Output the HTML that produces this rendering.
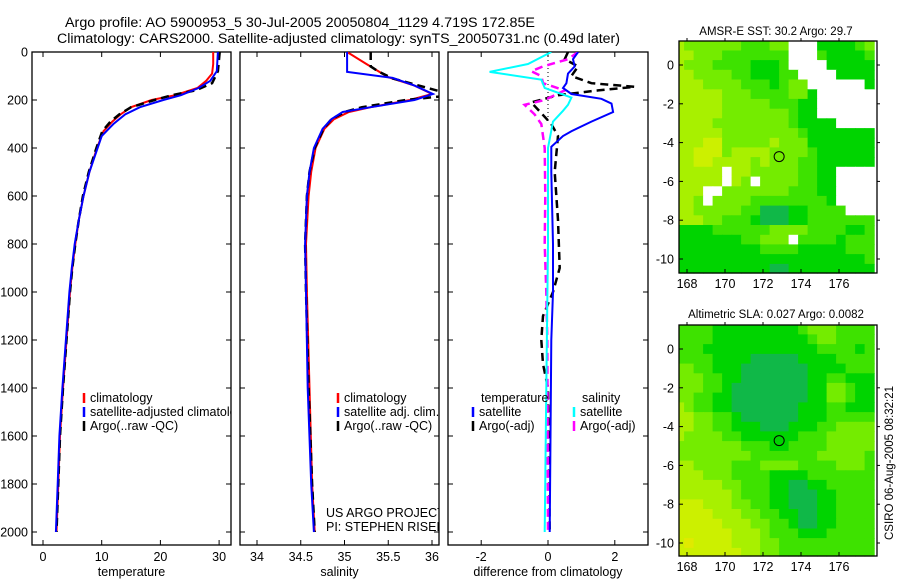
<!DOCTYPE html>
<html><head><meta charset="utf-8"><style>
html,body{margin:0;padding:0;background:#fff;}
svg{display:block;font-family:"Liberation Sans",sans-serif;}
</style></head><body>
<svg id="fig" width="900" height="580" viewBox="0 0 900 580">
<defs>
<clipPath id="c1"><rect x="32" y="52" width="199" height="493"/></clipPath>
<clipPath id="c2"><rect x="240" y="52" width="199" height="493"/></clipPath>
<clipPath id="c3"><rect x="448" y="52" width="200" height="493"/></clipPath>
</defs>
<text x="65" y="27" font-size="13.5" textLength="470" lengthAdjust="spacingAndGlyphs">Argo profile: AO 5900953_5 30-Jul-2005 20050804_1129 4.719S 172.85E</text>
<text x="57" y="43" font-size="13.5" textLength="563" lengthAdjust="spacingAndGlyphs">Climatology: CARS2000. Satellite-adjusted climatology: synTS_20050731.nc (0.49d later)</text>
<text x="776" y="35" font-size="11.5" text-anchor="middle">AMSR-E SST: 30.2 Argo: 29.7</text>
<text x="776" y="318" font-size="11.5" text-anchor="middle">Altimetric SLA: 0.027 Argo: 0.0082</text>
<text transform="translate(893,463) rotate(-90)" font-size="11.5" text-anchor="middle">CSIRO 06-Aug-2005 08:32:21</text>
<g id="g"></g>
</svg>
<script>
// ---- profile data: [depth, value]
const tempClim=[[0,29.0],[50,29.0],[90,28.8],[120,27.8],[150,26.3],[180,22.5],[200,18.5],[230,15],[260,13.2],[290,11.8],[330,10.3],[400,9.2],[500,7.9],[600,6.9],[700,6.1],[800,5.5],[900,5.0],[1000,4.6],[1200,4.0],[1400,3.4],[1600,2.9],[1800,2.6],[2000,2.3]];
const tempSat=[[0,29.8],[80,29.6],[120,28.5],[150,26.5],[180,23.5],[200,20.5],[230,16.5],[260,14],[300,12],[350,10],[400,9.3],[500,7.9],[600,6.9],[700,6.1],[800,5.4],[900,4.9],[1000,4.5],[1200,3.9],[1400,3.3],[1600,2.8],[1800,2.5],[2000,2.2]];
const tempArgo=[[0,30.1],[80,29.8],[130,28.8],[160,26],[180,22],[200,19],[230,15],[260,13],[290,11.5],[330,10.1],[400,9.1],[500,7.8],[600,6.8],[700,6.1],[800,5.5],[900,5.0],[1000,4.6],[1200,4.0],[1400,3.4],[1600,2.9],[1800,2.6],[2000,2.3]];
const salClim=[[0,35.03],[50,35.25],[105,35.5],[140,35.8],[175,36.0],[200,35.75],[230,35.3],[250,35.05],[280,34.88],[320,34.77],[400,34.67],[500,34.62],[600,34.59],[800,34.56],[1000,34.57],[1400,34.6],[1800,34.63],[2000,34.66]];
const salSat=[[0,35.03],[83,35.03],[108,35.55],[140,35.8],[175,36.01],[200,35.8],[230,35.3],[250,34.98],[280,34.85],[320,34.75],[400,34.65],[500,34.6],[600,34.57],[800,34.55],[1000,34.56],[1400,34.58],[1800,34.62],[2000,34.65]];
const salArgo=[[0,35.3],[60,35.3],[80,35.38],[110,35.55],[140,35.85],[165,36.1],[185,36.1],[200,35.7],[230,35.2],[250,35.0],[280,34.85],[320,34.76],[400,34.66],[500,34.6],[600,34.57],[800,34.55],[1000,34.56],[1400,34.59],[1800,34.63],[2000,34.66]];
const dTempSat=[[0,0.9],[30,0.75],[60,0.8],[90,0.6],[130,0.55],[150,0.45],[175,0.7],[195,1.6],[215,1.9],[250,1.95],[290,1.3],[330,0.7],[350,0.45],[395,0.1],[500,0.1],[800,0.15],[1000,0.15],[1200,0.1],[2000,0.05]];
const dTempArgo=[[0,0.6],[30,0.5],[60,0.9],[100,0.7],[130,1.3],[145,2.6],[160,1.5],[180,0.3],[210,-0.5],[240,-0.3],[300,0.1],[350,0.3],[500,0.2],[700,0.3],[900,0.35],[1000,0.15],[1100,-0.15],[1200,-0.2],[1300,-0.15],[1400,0.0],[2000,0.05]];
const dSalSat=[[0,0.1],[50,-0.6],[83,-1.75],[115,-0.2],[150,-0.1],[190,0.7],[220,0.6],[245,0.45],[290,0.15],[400,0.0],[800,0],[1400,-0.05],[2000,-0.1]];
const dSalArgo=[[0,0.9],[30,0.6],[60,-0.15],[80,-0.5],[100,-0.2],[130,-0.15],[160,0.5],[180,0.2],[200,-0.1],[220,-0.7],[260,-0.4],[300,-0.2],[400,-0.1],[600,-0.08],[800,-0.1],[1000,-0.05],[1200,-0.02],[2000,0.0]];
const depthTicks=[0,200,400,600,800,1000,1200,1400,1600,1800,2000];
const tempTicks=[0,10,20,30];
const salTicks=[34,34.5,35,35.5,36];
const diffTicks=[-2,0,2];
// ---- map data: rows from lat 1.0 to -10.5 step 0.5, cols lon 167.6..177.6 step 0.5; W = missing
const sstRows=["433333322233WWW111123","443332222222WWW211112","433322221112WWWW11111","4433332211122WWWW1111","44433332221233WWWWWW1","444443332222331WWWWWW","444443333322211WWWWWW","444443333333211WWWWWW","44443333333321111WWWW","444443333333321111111","444553333343331111111","445553444433332111111","445544443433322111111","44444W44333332211WWWW","44444W43W33332211WWWW","444WW333333322211WWWW","443W3333222222221WWWW","443333322000112222WWW","444332221000112222222","111122222233332222112","111111122333W22221222","111111111222211111222","111111111111111111112","111111111100111111111"];
const slaRows=["222211111111123332222","222211111111112332222","222111111111111222212","222211110000011112222","332211100000001111222","333221100000001122111","333221000000001133211","332211000000001133211","432211000000011122111","443322100000011122222","443322111000111223333","433332211111122233333","333333322211222233333","333333332222222333332","443333222333322223332","444333222211112222222","444443322211001122222","444444322211000112222","555444332211000112222","555544433221100112222","555554443322100112222","555555444322211122222","565555444332222222222","555555544332222222222"];
const latTicks=[0,-2,-4,-6,-8,-10];
const lonTicks=[168,170,172,174,176];
const floatLon=172.85, floatLat=-4.72;

const NS="http://www.w3.org/2000/svg";
const G=document.getElementById('g');
function mk(t,a,p){const e=document.createElementNS(NS,t);for(const k in a)e.setAttribute(k,a[k]);(p||G).appendChild(e);return e;}
const yD=d=>52+d*0.24;
const panels=[
 {x0:32,x1:231,sx:v=>43+v*5.87,ticks:tempTicks,lab:'temperature',clip:'c1',name:'temperature-panel'},
 {x0:240,x1:439,sx:v=>257+(v-34)*87.5,ticks:salTicks,lab:'salinity',clip:'c2',name:'salinity-panel'},
 {x0:448,x1:648,sx:v=>548+v*33.4,ticks:diffTicks,lab:'difference from climatology',clip:'c3',name:'difference-panel'}];
panels.forEach((p,i)=>{
 const g=mk('g',{});
 
 
 const r=mk('rect',{x:p.x0,y:52,width:p.x1-p.x0,height:493,fill:'none',stroke:'#000','stroke-width':1.3},g);
 
 
 depthTicks.forEach(d=>{const y=yD(d);
  mk('line',{x1:p.x0,x2:p.x0+5,y1:y,y2:y,stroke:'#000'},g);
  mk('line',{x1:p.x1,x2:p.x1-5,y1:y,y2:y,stroke:'#000'},g);
  if(i==0){const t=mk('text',{x:28,y:y+4.5,'font-size':12.5,'text-anchor':'end'},g);t.textContent=d;
   
   }
 });
 p.ticks.forEach(v=>{const x=p.sx(v);
  mk('line',{x1:x,x2:x,y1:52,y2:57,stroke:'#000'},g);
  mk('line',{x1:x,x2:x,y1:545,y2:540,stroke:'#000'},g);
  const t=mk('text',{x:x,y:561,'font-size':12.5,'text-anchor':'middle'},g);t.textContent=v;
  
  
 });
 const t=mk('text',{x:(p.x0+p.x1)/2,y:576,'font-size':12.5,'text-anchor':'middle'},g);t.textContent=p.lab;
 
 
});
function line(data,p,color,dash,w,name){
 const pts=data.map(d=>p.sx(d[1]).toFixed(1)+','+yD(d[0]).toFixed(1)).join(' ');
 const e=mk('polyline',{points:pts,fill:'none',stroke:color,'stroke-width':w||2,'clip-path':'url(#'+p.clip+')'});
 if(dash)e.setAttribute('stroke-dasharray',dash);
 
 
}
const P=panels;
line(tempClim,P[0],'#f00',null,2,'temp-climatology-line');
line(tempArgo,P[0],'#000','8,5',2.5,'temp-argo-line');
line(tempSat,P[0],'#00f',null,2,'temp-satellite-line');
line(salClim,P[1],'#f00',null,2,'sal-climatology-line');
line(salArgo,P[1],'#000','8,5',2.5,'sal-argo-line');
line(salSat,P[1],'#00f',null,2,'sal-satellite-line');
const zl=mk('line',{x1:P[2].sx(0),x2:P[2].sx(0),y1:52,y2:yD(300),stroke:'#000','stroke-dasharray':'1,3'});


line(dTempArgo,P[2],'#000','8,5',2.5,'diff-temp-argo-line');
line(dSalArgo,P[2],'#f0f','8,5',2.5,'diff-sal-argo-line');
line(dTempSat,P[2],'#00f',null,2,'diff-temp-satellite-line');
line(dSalSat,P[2],'#0ff',null,2,'diff-sal-satellite-line');
function leg(x,y,color,txt,clip){
 const g=mk('g',{'clip-path':clip?'url(#'+clip+')':''});
 
 
 if(color)mk('line',{x1:x,x2:x,y1:y-9,y2:y+1,stroke:color,'stroke-width':2.5},g);
 const t=mk('text',{x:x+6,y:y,'font-size':12.5},g);t.textContent=txt;
}
leg(84,402,'#f00','climatology','c1');leg(84,416,'#00f','satellite-adjusted climatology','c1');leg(84,430,'#000','Argo(..raw -QC)','c1');
leg(338,402,'#f00','climatology','c2');leg(338,416,'#00f','satellite adj. clim.','c2');leg(338,430,'#000','Argo(..raw -QC)','c2');
leg(475,402,null,'temperature','c3');leg(473,416,'#00f','satellite','c3');leg(473,430,'#000','Argo(-adj)','c3');
leg(576,402,null,'salinity','c3');leg(574,416,'#0ff','satellite','c3');leg(574,430,'#f0f','Argo(-adj)','c3');
leg(320,517,null,'US ARGO PROJECT','c2');leg(320,531,null,'PI: STEPHEN RISER','c2');

// ---- maps
const pal={'0':'#10b848','1':'#00d400','2':'#3ee200','3':'#74ec00','4':'#a8f000','5':'#ccf000','6':'#e0ea00','W':'#fff'};
function drawMap(rows,box,name){
 const g=mk('g',{});
 
 
 const sx=lon=>box.lx0+(lon-168)*box.kx, sy=lat=>box.ly0-lat*box.ky;
 rows.forEach((row,j)=>{const lat=1.25-0.5*j;
  for(let i=0;i<row.length;i++){const lon=167.35+0.5*i;
   const x=Math.max(box.x0,sx(lon)),x2=Math.min(box.x1,sx(lon+0.5));
   const y=Math.max(box.y0,sy(lat)),y2=Math.min(box.y1,sy(lat-0.5));
   const c=mk('rect',{x:x.toFixed(1),y:y.toFixed(1),width:(x2-x+0.6).toFixed(1),height:(y2-y+0.6).toFixed(1),fill:pal[row[i]]},g);
   
   
  }});
 mk('rect',{x:box.x0,y:box.y0,width:box.x1-box.x0,height:box.y1-box.y0,fill:'none',stroke:'#000','stroke-width':1.3},g);
 latTicks.forEach(v=>{const y=sy(v);
  mk('line',{x1:box.x0,x2:box.x0+4,y1:y,y2:y,stroke:'#000'},g);
  mk('line',{x1:box.x1,x2:box.x1+3,y1:y,y2:y,stroke:'#000'},g);
  const t=mk('text',{x:box.x0-5,y:y+4.5,'font-size':12.5,'text-anchor':'end'},g);t.textContent=v;
  
  });
 lonTicks.forEach(v=>{const x=sx(v);
  mk('line',{x1:x,x2:x,y1:box.y0,y2:box.y0-3,stroke:'#000'},g);
  mk('line',{x1:x,x2:x,y1:box.y1,y2:box.y1-4,stroke:'#000'},g);
  const t=mk('text',{x:x,y:box.y1+15,'font-size':12.5,'text-anchor':'middle'},g);t.textContent=v;
  
  });
 const c=mk('circle',{cx:sx(floatLon),cy:sy(floatLat),r:5,fill:'none',stroke:'#000','stroke-width':1},g);
 
 
}
drawMap(sstRows,{x0:679,x1:877,y0:41,y1:273,lx0:687,kx:19,ly0:65,ky:19.4},'sst-map');
drawMap(slaRows,{x0:679,x1:877,y0:325,y1:556,lx0:687,kx:19,ly0:349,ky:19.4},'sla-map');
</script>
</body></html>
